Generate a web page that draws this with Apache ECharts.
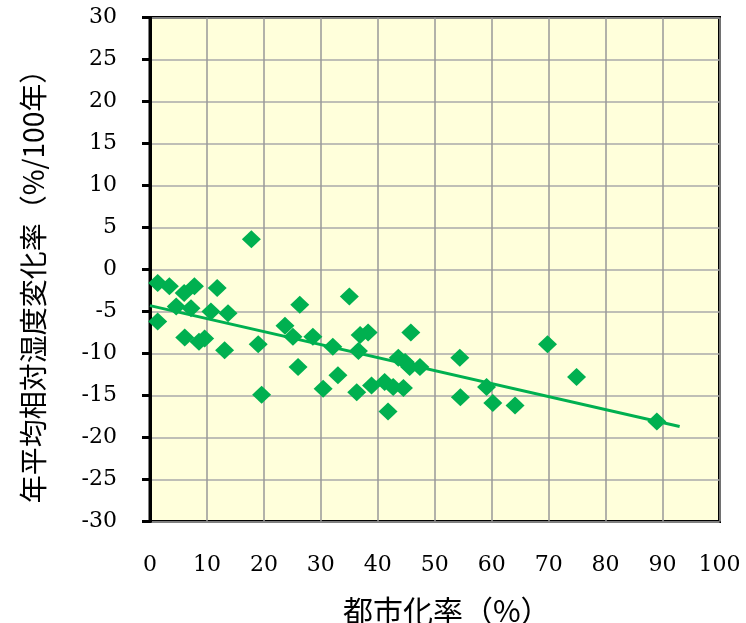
<!DOCTYPE html>
<html><head><meta charset="utf-8">
<script src="https://cdn.jsdelivr.net/npm/echarts@6/dist/echarts.min.js"></script>
<style>html,body{margin:0;padding:0;background:#fff}#c{width:746px;height:623px}</style>
</head><body><div id="c"></div>
<script>
var urbanRate = [17.8,1.35,3.4,6.0,7.8,11.8,4.6,7.2,10.7,13.7,1.35,6.1,8.6,9.6,13.1,19.0,19.6,23.7,25.1,26.3,26.0,
  35.0,28.6,32.1,36.9,38.3,36.6,45.8,43.6,44.8,45.6,47.4,33.0,30.4,36.3,38.9,41.2,42.7,44.5,41.8,
  54.4,54.5,59.1,60.2,64.1,69.8,74.9,89.0];
var humidityChange = [3.6,-1.6,-2.0,-2.8,-2.0,-2.2,-4.4,-4.6,-5.0,-5.2,-6.2,-8.1,-8.6,-8.2,-9.6,-8.9,-14.9,-6.7,-8.0,-4.2,-11.6,
  -3.2,-8.0,-9.2,-7.8,-7.5,-9.7,-7.5,-10.5,-11.0,-11.6,-11.6,-12.6,-14.2,-14.6,-13.8,-13.4,-14.0,-14.1,-16.9,
  -10.5,-15.2,-14.0,-15.9,-16.2,-8.9,-12.8,-18.1];
var trendX = [0, 93];
var trendY = [-4.3, -18.7];
var xTicks = [0,10,20,30,40,50,60,70,80,90,100];
var yTicks = [-30,-25,-20,-15,-10,-5,0,5,10,15,20,25,30];
var xName = '都市化率（%）';
var yName = '年平均相対湿度変化率（%/100年）';

var pts = urbanRate.map(function(v,i){return [v, humidityChange[i]];});
var trend = trendX.map(function(v,i){return [v, trendY[i]];});
var chart = echarts.init(document.getElementById('c'));
chart.setOption({
  animation:false,
  grid:{left:150, top:17.5, right:26.5, bottom:101.5, containLabel:false, outerBoundsMode:'none',
    show:true, backgroundColor:'#FFFFDB', borderColor:'#000', borderWidth:3},
  xAxis:{type:'value', min:xTicks[0], max:xTicks[xTicks.length-1], interval:10,
    name:xName, nameLocation:'middle', nameGap:74,
    nameTextStyle:{fontFamily:'Noto Sans CJK JP', fontSize:30, color:'#000', padding:[0,0,0,24]},
    axisLine:{show:false},
    axisTick:{show:false},
    axisLabel:{margin:33, fontFamily:'DejaVu Serif', fontSize:22, color:'#000'},
    splitLine:{show:true, lineStyle:{color:'#999', width:1.5}}},
  yAxis:{type:'value', min:yTicks[0], max:yTicks[yTicks.length-1], interval:5,
    name:yName, nameLocation:'middle', nameGap:103,
    nameTextStyle:{fontFamily:'Noto Sans CJK JP', fontSize:28, color:'#000', padding:[0,20,0,0]},
    axisLine:{show:true, lineStyle:{color:'#000', width:3}},
    axisTick:{show:true, length:8, lineStyle:{color:'#000', width:3}},
    axisLabel:{margin:33, fontFamily:'DejaVu Serif', fontSize:22, color:'#000'},
    splitLine:{show:true, lineStyle:{color:'#aaa', width:1.5}}},
  series:[
    {type:'line', data:trend, symbol:'none', lineStyle:{color:'#00B050', width:3}, z:2},
    {type:'scatter', data:pts, symbol:'diamond', symbolSize:[19,18], itemStyle:{color:'#00B050', opacity:1}, z:3}
  ]
});
</script></body></html>
